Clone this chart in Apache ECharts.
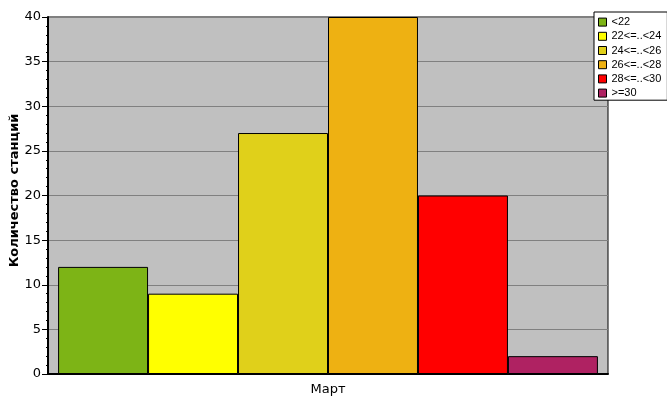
<!DOCTYPE html>
<html><head><meta charset="utf-8">
<script src="https://cdn.jsdelivr.net/npm/echarts@6/dist/echarts.min.js"></script>
<style>html,body{margin:0;padding:0;background:#fff}#c{width:667px;height:415px}</style>
</head><body><div id="c"></div>
<script>
const categories = ['Март'];
const seriesNames = ['<22', '22<=..<24', '24<=..<26', '26<=..<28', '28<=..<30', '>=30'];
const seriesValues = [12, 9, 27, 40, 20, 2];
const seriesColors = ['#7db416', '#ffff00', '#e0d01a', '#eeb112', '#ff0000', '#af2262'];
const yTicks = [0, 5, 10, 15, 20, 25, 30, 35, 40];

const chart = echarts.init(document.getElementById('c'), null, {renderer: 'canvas'});
const series = seriesNames.map((n, i) => ({
  name: n, type: 'bar', data: [seriesValues[i]],
  barGap: '0%', barCategoryGap: '3.6%',
  itemStyle: {color: seriesColors[i], borderColor: '#000', borderWidth: 1}
}));
chart.setOption({
  animation: false,
  backgroundColor: '#fff',
  grid: {left: 48, top: 17, width: 560, height: 357, containLabel: false, outerBoundsMode: 'none',
    show: true, backgroundColor: '#c0c0c0', borderColor: '#000', borderWidth: 1},
  legend: {
    orient: 'vertical', left: 594, top: 12,
    backgroundColor: '#fff', borderColor: '#000', borderWidth: 1,
    padding: [4, 6, 1, 4], itemWidth: 8, itemHeight: 8, itemGap: 2,
    icon: 'rect',
    itemStyle: {borderColor: '#000', borderWidth: 1},
    textStyle: {fontFamily: 'Liberation Sans', fontSize: 11, lineHeight: 12.2, color: '#000', padding: [0, 0, 0, 0]},
    data: seriesNames
  },
  xAxis: {
    type: 'category', data: categories,
    axisLine: {lineStyle: {color: '#000', width: 2}},
    axisTick: {show: false},
    axisLabel: {fontFamily: 'DejaVu Sans', fontSize: 13, color: '#000', margin: 9}
  },
  yAxis: {
    type: 'value', min: 0, max: 40, interval: 5,
    name: 'Количество станций', nameLocation: 'middle', nameGap: 27, nameMoveOverlap: false,
    nameTextStyle: {fontFamily: 'DejaVu Sans', fontSize: 13, fontWeight: 'bold', color: '#000', padding: [0, 0, 0, 10]},
    axisLine: {show: true, lineStyle: {color: '#000', width: 2}},
    axisTick: {show: true, length: 6, lineStyle: {color: '#000'}},
    minorTick: {show: true, splitNumber: 5, length: 2, lineStyle: {color: '#000'}},
    axisLabel: {fontFamily: 'DejaVu Sans', fontSize: 13, color: '#000', margin: 7,
      formatter: v => yTicks.includes(v) ? String(v) : ''},
    splitLine: {show: true, lineStyle: {color: '#808080', width: 1}}
  },
  series: series
});
</script></body></html>
